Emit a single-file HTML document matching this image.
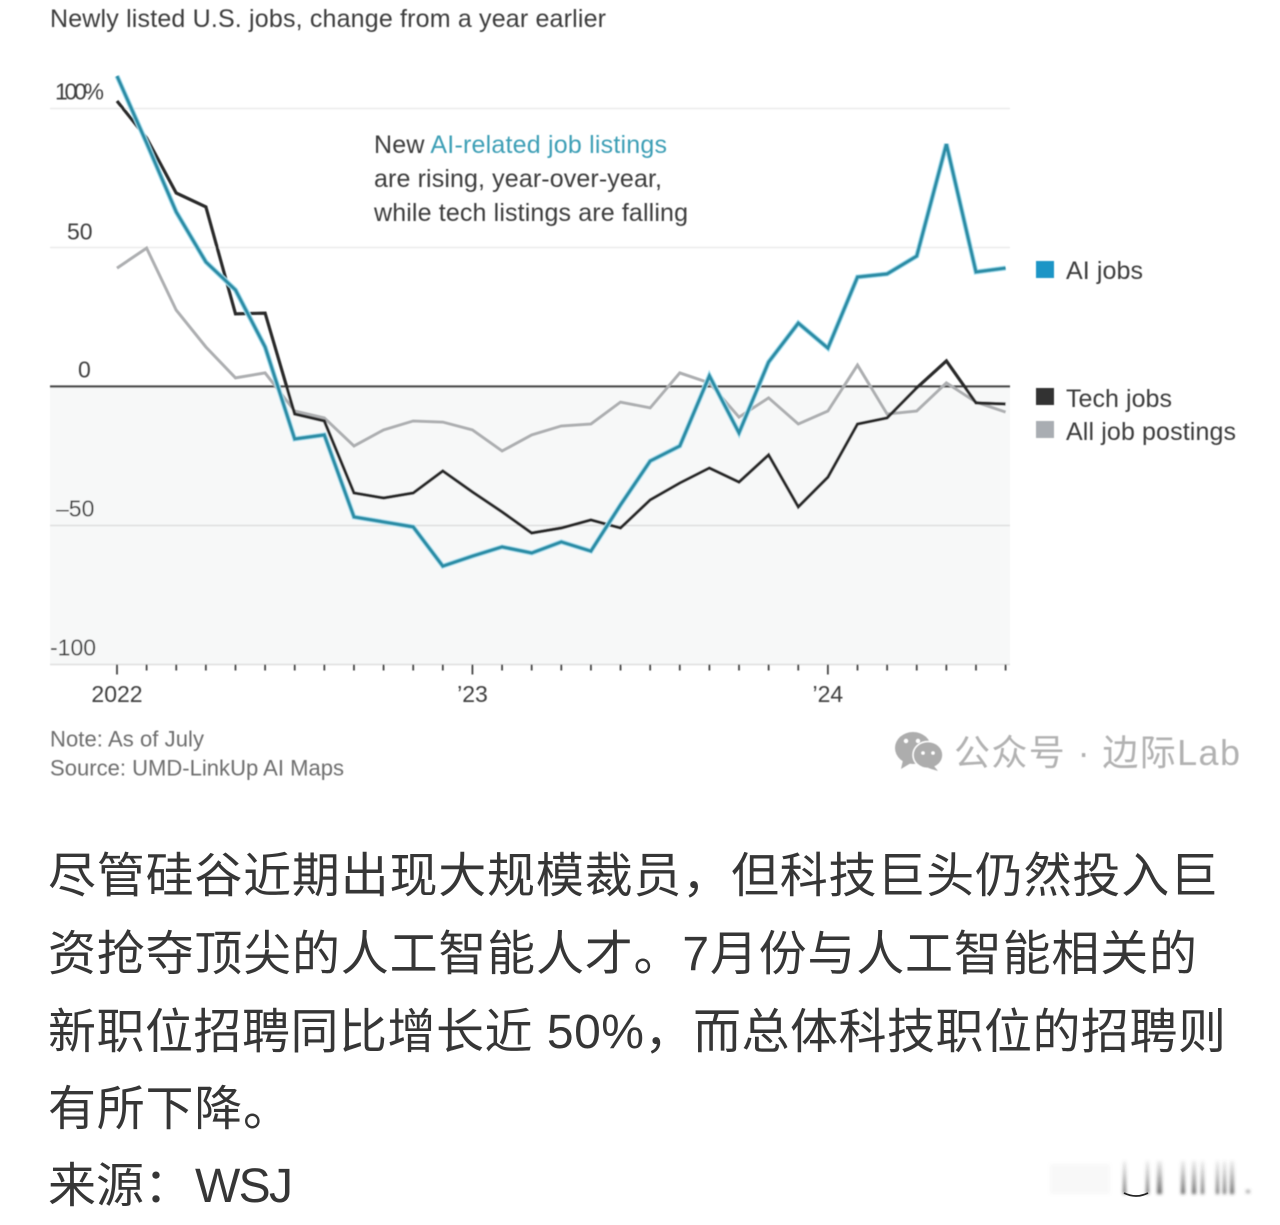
<!DOCTYPE html>
<html lang="zh">
<head>
<meta charset="utf-8">
<title>Newly listed U.S. jobs</title>
<style>
html,body{margin:0;padding:0;background:#fff;width:1280px;height:1225px;overflow:hidden}
svg{display:block;position:absolute;left:0;top:0}
text{font-family:"Liberation Sans","Noto Sans CJK SC",sans-serif}
.t{fill:#3c3c3c;font-size:25px}
.n{fill:#6e6e6e;font-size:22px}
.c{fill:#363636;font-size:48px;font-family:"Liberation Sans","Noto Sans CJK SC",sans-serif}
</style>
</head>
<body>
<svg id="chart" width="1280" height="1225" viewBox="0 0 1280 1225" xmlns="http://www.w3.org/2000/svg">
  <defs>
    <filter id="soft" x="-5%" y="-5%" width="110%" height="110%"><feGaussianBlur stdDeviation="0.45"/></filter>
    <filter id="smudge" x="-10%" y="-10%" width="120%" height="120%"><feGaussianBlur stdDeviation="1.6"/></filter>
    <linearGradient id="barfade" x1="0" y1="0" x2="0" y2="1"><stop offset="0" stop-color="#555" stop-opacity="0.1"/><stop offset="1" stop-color="#333" stop-opacity="0.75"/></linearGradient>
  </defs>
  <g id="plot" filter="url(#soft)"></g>
  <g filter="url(#soft)">
    <text class="t" x="50" y="27" textLength="556">Newly listed U.S. jobs, change from a year earlier</text>
    <text class="t" x="374" y="153" textLength="293">New <tspan fill="#3d9fb6">AI-related job listings</tspan></text>
    <text class="t" x="374" y="187" textLength="288">are rising, year-over-year,</text>
    <text class="t" x="374" y="221" textLength="314">while tech listings are falling</text>
    <rect x="1036" y="261" width="18" height="17" fill="#1a95c6"/>
    <text class="t" x="1066" y="279" textLength="77">AI jobs</text>
    <rect x="1036" y="388" width="18" height="17" fill="#333"/>
    <text class="t" x="1066" y="407" textLength="106">Tech jobs</text>
    <rect x="1036" y="421" width="18" height="17" fill="#a9adb2"/>
    <text class="t" x="1066" y="440" textLength="170">All job postings</text>
    <text class="n" x="50" y="746.5" textLength="154">Note: As of July</text>
    <text class="n" x="50" y="775.5" textLength="294">Source: UMD-LinkUp AI Maps</text>
  </g>
  <g filter="url(#soft)">
    <g fill="#adadad">
      <ellipse cx="913" cy="748" rx="18" ry="16"/>
      <polygon points="903,760 901,769 911,763"/>
      <ellipse cx="928" cy="755" rx="15" ry="13.5" stroke="#fff" stroke-width="1.5"/>
      <polygon points="934,766 938,771 928,768"/>
      <circle cx="906" cy="741" r="2.2" fill="#fff"/><circle cx="918" cy="741" r="2.2" fill="#fff"/>
      <circle cx="923" cy="753" r="1.8" fill="#fff"/><circle cx="933" cy="753" r="1.8" fill="#fff"/>
    </g>
    <text x="954" y="765" font-size="36" fill="#b2b2b2" textLength="286">公众号 · 边际Lab</text>
  </g>
  <g>
    <text class="c" x="48" y="892" textLength="1170">尽管硅谷近期出现大规模裁员，但科技巨头仍然投入巨</text>
    <text class="c" x="48" y="970" textLength="1149">资抢夺顶尖的人工智能人才。7月份与人工智能相关的</text>
    <text class="c" x="48" y="1048" textLength="1178">新职位招聘同比增长近 50%，而总体科技职位的招聘则</text>
    <text class="c" x="48" y="1125" textLength="243">有所下降。</text>
    <text class="c" x="48" y="1202">来源： <tspan x="195" textLength="98">WSJ</tspan></text>
  </g>
  <g filter="url(#smudge)">
    <rect x="1050" y="1164" width="60" height="30" fill="#999" opacity="0.07"/>
    <rect x="1123" y="1161" width="3" height="33" fill="url(#barfade)"/>
    <rect x="1146" y="1161" width="3" height="33" fill="url(#barfade)"/>
    <rect x="1157" y="1161" width="5" height="33" fill="url(#barfade)"/>
    <rect x="1181" y="1161" width="4" height="33" fill="url(#barfade)"/>
    <rect x="1192" y="1161" width="4" height="33" fill="url(#barfade)"/>
    <rect x="1201" y="1161" width="3" height="33" fill="url(#barfade)"/>
    <rect x="1216" y="1161" width="3" height="33" fill="url(#barfade)"/>
    <rect x="1223" y="1161" width="3" height="33" fill="url(#barfade)"/>
    <rect x="1230" y="1161" width="4" height="33" fill="url(#barfade)"/>
    <rect x="1246" y="1190" width="4" height="3" fill="#555" opacity="0.6"/>
  </g>
  <path d="M1124 1193 Q1136 1199 1148 1193" fill="none" stroke="#222" stroke-width="1.8"/>
</svg>
<script>
var months = ['Jan 22','Feb 22','Mar 22','Apr 22','May 22','Jun 22','Jul 22','Aug 22','Sep 22','Oct 22','Nov 22','Dec 22','Jan 23','Feb 23','Mar 23','Apr 23','May 23','Jun 23','Jul 23','Aug 23','Sep 23','Oct 23','Nov 23','Dec 23','Jan 24','Feb 24','Mar 24','Apr 24','May 24','Jun 24','Jul 24'];
var aiJobs = [111.7,87.6,62.8,44.8,34.7,14.2,-18.9,-17.4,-46.9,-48.7,-50.5,-64.6,-61,-57.7,-59.9,-55.9,-59.2,-42.6,-26.8,-21.4,3.8,-16.7,8.8,22.8,13.8,39.4,40.5,46.9,87.2,41.2,42.6];
var techJobs = [102.7,89.4,69.6,64.6,26.1,26.4,-9.9,-12.4,-38.3,-40.1,-38.3,-30.4,-37.9,-45.1,-52.7,-50.9,-48,-50.9,-40.8,-34.7,-29.3,-34.4,-24.6,-43.3,-32.6,-13.5,-11.3,-0.5,9.2,-5.9,-6.3];
var allPostings = [42.6,49.8,27.5,14.2,3.1,4.9,-8.8,-11.3,-21.4,-15.6,-12.4,-12.8,-15.6,-23.2,-17.4,-14.2,-13.5,-5.6,-7.7,4.9,1.3,-11,-4.1,-13.5,-8.8,7.7,-9.9,-8.8,1.3,-5.6,-9.2];
var yTicks = [100,50,0,-50,-100];
var yLabels = ['100%','50','0','\u201350','-100'];
var yearTicks = [0,12,24];
var yearLabels = ['2022','\u201923','\u201924'];

var NS = 'http://www.w3.org/2000/svg';
var plot = document.getElementById('plot');
var X0 = 117, XSTEP = 29.62, Y0 = 386.5, YSCALE = 2.78, LEFT = 50, RIGHT = 1010;
function xScale(i){ return X0 + i * XSTEP; }
function yScale(v){ return Y0 - v * YSCALE; }
function make(tag, attrs, parent){
  var el = document.createElementNS(NS, tag);
  for (var k in attrs) el.setAttribute(k, attrs[k]);
  (parent || plot).appendChild(el);
  return el;
}
function pathFor(values){
  return values.map(function(v, i){ return xScale(i).toFixed(1) + ',' + yScale(v).toFixed(1); }).join(' ');
}

var shade = make('rect', {x: LEFT, y: yScale(0), width: RIGHT - LEFT, height: yScale(-100) - yScale(0), fill: '#f7f8f8'});



yTicks.forEach(function(t, i){
  var gl = make('line', {x1: LEFT, x2: RIGHT, y1: yScale(t), y2: yScale(t),
    stroke: t === 0 ? '#4a4a4a' : (t < 0 ? '#dedede' : '#ebebeb'), 'stroke-width': t === 0 ? 2.2 : 1.5});
  
  
  var lx = t === 100 ? 55 : (t === 0 ? 78 : (t === 50 ? 67 : (t === -50 ? 56 : 50)));
  var lb = make('text', {x: lx, y: yScale(t) - (t === 50 ? 8 : 9), 'font-size': 23, fill: '#404040'});
  lb.textContent = yLabels[i];
  if (t === 100) lb.setAttribute('textLength', '49');
  
  
});

months.forEach(function(m, i){
  var isYear = yearTicks.indexOf(i) >= 0;
  var tk = make('line', {x1: xScale(i), x2: xScale(i), y1: yScale(-100), y2: yScale(-100) + (isYear ? 10 : 6), stroke: '#444', 'stroke-width': 1.8});
  
  
});
yearTicks.forEach(function(idx, i){
  var lb = make('text', {x: xScale(idx), y: 702, 'text-anchor': 'middle', 'font-size': 23, fill: '#404040'});
  lb.textContent = yearLabels[i];
  
  
});

var allLine = make('polyline', {points: pathFor(allPostings), fill: 'none', stroke: '#adafb1', 'stroke-width': 3, 'stroke-linejoin': 'miter'});


var techLine = make('polyline', {points: pathFor(techJobs), fill: 'none', stroke: '#2a2a2a', 'stroke-width': 3.2, 'stroke-linejoin': 'miter'});


var aiGlow = make('polyline', {points: pathFor(aiJobs), fill: 'none', stroke: '#a6e0f0', 'stroke-width': 5.2, 'stroke-linejoin': 'miter'});


var aiLine = make('polyline', {points: pathFor(aiJobs), fill: 'none', stroke: '#2a8da6', 'stroke-width': 3.2, 'stroke-linejoin': 'miter'});


</script>
</body>
</html>
